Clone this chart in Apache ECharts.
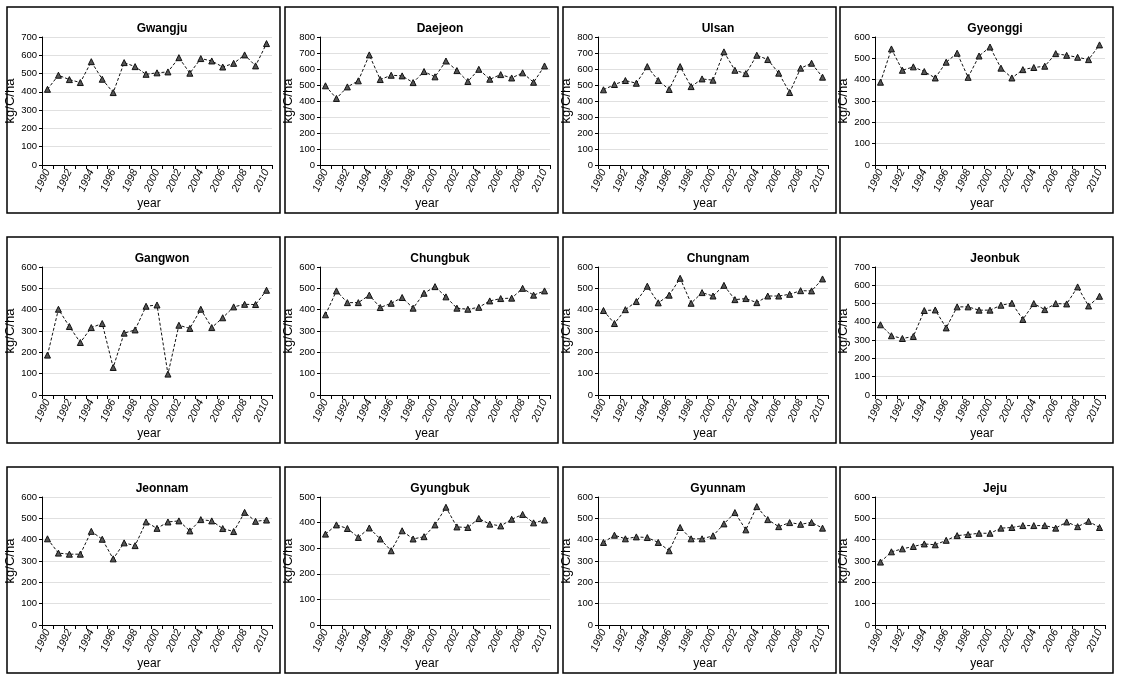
<!DOCTYPE html>
<html>
<head>
<meta charset="utf-8">
<script src="https://cdn.jsdelivr.net/npm/echarts@6/dist/echarts.min.js"></script>
<style>
html,body{margin:0;padding:0;background:#fff;}
#c{width:1122px;height:681px;}
</style>
</head>
<body>
<div id="c"></div>
<script>
const years = ['1990','1991','1992','1993','1994','1995','1996','1997','1998','1999','2000','2001','2002','2003','2004','2005','2006','2007','2008','2009','2010'];

const regions = ['Gwangju','Daejeon','Ulsan','Gyeonggi','Gangwon','Chungbuk','Chungnam','Jeonbuk','Jeonnam','Gyungbuk','Gyunnam','Jeju'];
const yMax = [700, 800, 800, 600, 600, 600, 600, 700, 600, 500, 600, 600];

const gwangju  = [414,491,467,451,565,469,396,560,538,496,504,509,587,502,582,569,536,556,602,542,664];
const daejeon  = [495,416,488,526,688,534,561,557,515,584,551,650,590,522,598,536,565,544,576,517,619];
const ulsan    = [470,503,528,511,615,528,472,615,490,538,530,707,592,571,686,659,574,453,605,636,549];
const gyeonggi = [388,544,444,460,438,408,482,524,411,511,553,454,408,447,457,463,522,514,505,494,563];
const gangwon  = [187,402,321,246,316,335,129,290,305,416,422,98,327,312,402,316,362,413,425,424,491];
const chungbuk = [376,488,433,433,468,410,430,457,407,477,508,460,407,402,411,441,452,454,500,468,488];
const chungnam = [396,335,400,438,510,432,468,547,430,480,464,514,447,452,433,464,464,472,489,488,544];
const jeonbuk  = [384,324,309,320,462,465,367,482,482,464,464,491,502,413,500,467,500,498,591,487,540];
const jeonnam  = [404,337,332,332,439,402,310,385,372,483,453,483,488,441,494,488,452,438,528,486,492];
const gyungbuk = [355,391,377,342,379,336,290,368,336,345,391,460,383,381,416,394,387,413,432,399,410];
const gyunnam  = [387,421,404,413,410,387,348,457,404,404,418,474,527,446,555,494,461,480,472,481,454];
const jeju     = [295,343,357,368,380,376,397,419,424,430,430,454,457,466,466,466,454,483,461,486,457];

const seriesData = [gwangju,daejeon,ulsan,gyeonggi,gangwon,chungbuk,chungnam,jeonbuk,jeonnam,gyungbuk,gyunnam,jeju];

const colLeft = [7, 285, 563, 840];
const rowTop = [7, 237, 467];
const boxW = 273, boxH = 206;

const chart = echarts.init(document.getElementById('c'), null, {renderer:'canvas'});
const font = '"Liberation Sans", Arial, sans-serif';

const titles = [], grids = [], xAxes = [], yAxes = [], series = [], graphics = [];
regions.forEach((name, i) => {
  const bx = colLeft[i % 4], by = rowTop[Math.floor(i / 4)];
  graphics.push({type:'rect', shape:{x:bx, y:by, width:boxW, height:boxH}, style:{fill:'none', stroke:'#000', lineWidth:1.5}, silent:true});
  titles.push({text:name, left: bx + 35 + 115, top: by + 11, textAlign:'center',
    textStyle:{fontFamily:font, fontSize:12, fontWeight:'bold', color:'#000'}});
  grids.push({left: bx + 35, top: by + 30, width: 230, height: 128});
  xAxes.push({type:'category', gridIndex:i, data:years, boundaryGap:true,
    name:'year', nameLocation:'middle', nameGap:33,
    nameTextStyle:{fontFamily:font, fontSize:12, color:'#000', padding:[0,16,0,0]},
    axisLine:{lineStyle:{color:'#000', width:1}},
    axisTick:{show:true, interval:0, length:4, lineStyle:{color:'#000'}},
    axisLabel:{interval:1, rotate:65, margin:5, fontFamily:font, fontSize:10.5, fontStyle:'italic', color:'#000'},
    splitLine:{show:false}});
  yAxes.push({type:'value', gridIndex:i, min:0, max:yMax[i], interval:100,
    name:'kg/C/ha', nameLocation:'middle', nameGap:21,
    nameTextStyle:{fontFamily:font, fontSize:13, color:'#000'},
    axisLine:{show:true, lineStyle:{color:'#000', width:1}},
    axisTick:{show:true, length:3, lineStyle:{color:'#000'}},
    axisLabel:{margin:5, fontFamily:font, fontSize:9.5, color:'#000'},
    splitLine:{show:true, lineStyle:{color:'#e0e0e0', width:1}}});
  series.push({type:'line', xAxisIndex:i, yAxisIndex:i, data:seriesData[i],
    symbol:'triangle', symbolSize:6,
    itemStyle:{color:'#555', borderColor:'#111', borderWidth:1},
    lineStyle:{color:'#111', width:1, type:[3,2]},
    animation:false});
});

chart.setOption({
  backgroundColor:'#fff',
  animation:false,
  title:titles, grid:grids, xAxis:xAxes, yAxis:yAxes, series:series, graphic:graphics
});
</script>
</body>
</html>
